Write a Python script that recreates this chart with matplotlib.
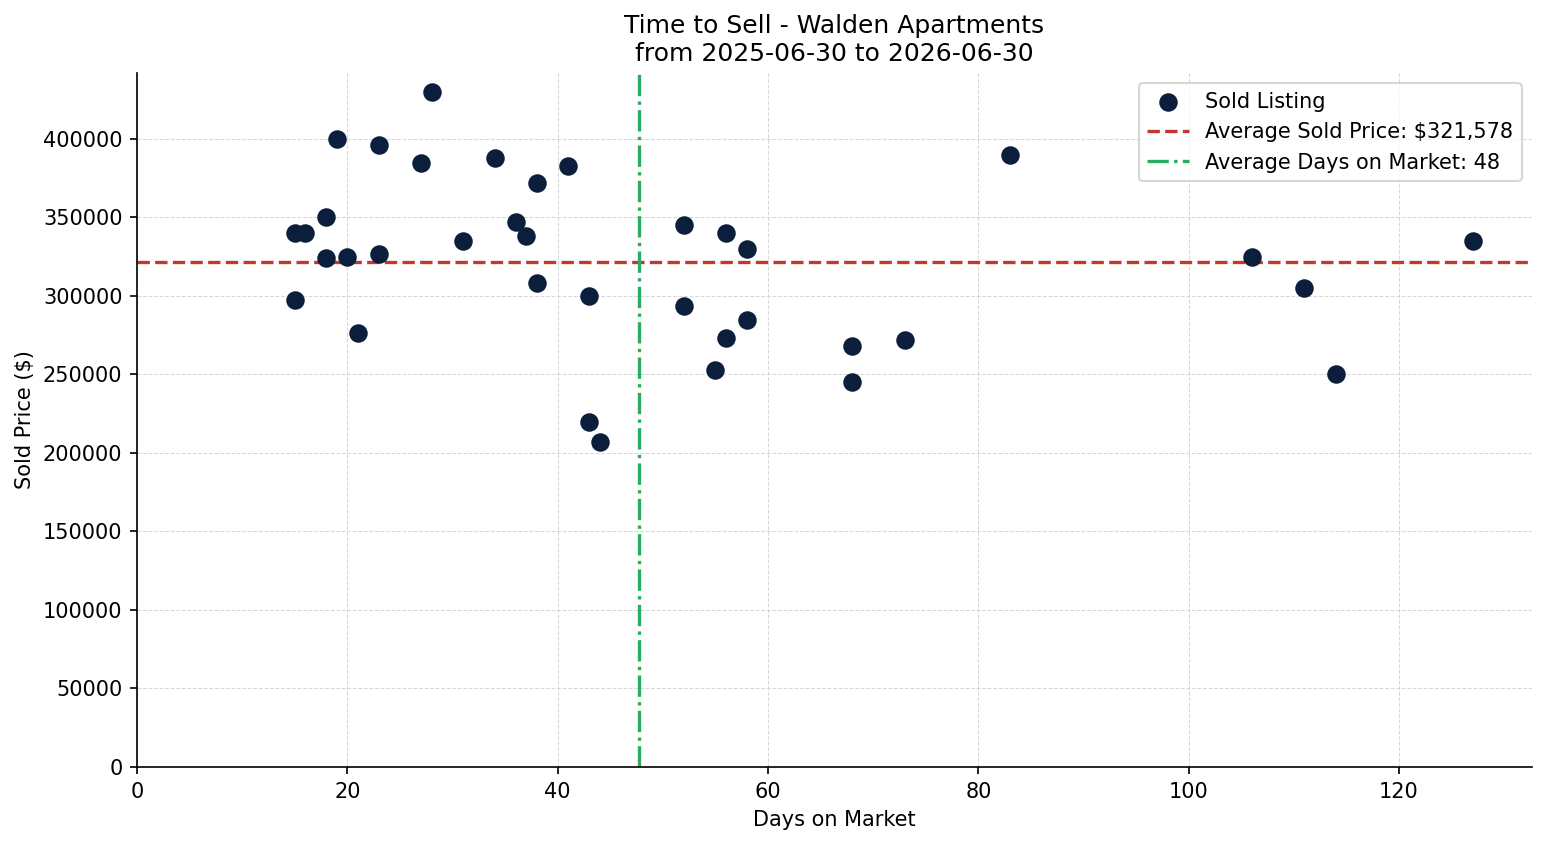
import matplotlib
matplotlib.use("Agg")
import matplotlib.pyplot as plt
import numpy as np

# Sold listings
days_on_market = [15, 16, 15, 18, 18, 19, 20, 21, 23, 23, 27, 28, 31, 34, 36, 37, 38, 38, 41,
                  43, 43, 44, 52, 52, 55, 56, 56, 58, 58, 68, 68, 73, 83, 106, 111, 114, 127]
sold_price = [340000, 340000, 297500, 350000, 324000, 400000, 325000, 276500, 396000, 327000,
              385000, 430000, 335000, 388000, 347000, 338000, 372000, 308000, 383000, 300000,
              219900, 207000, 345000, 293474, 253000, 340000, 273000, 330000, 285000, 268000,
              245000, 272000, 390000, 325000, 305000, 250000, 335000]

title = "Time to Sell - Walden Apartments\nfrom 2025-06-30 to 2026-06-30"

days = np.array(days_on_market)
price = np.array(sold_price)
avg_price = price.mean()
avg_days = days.mean()

fig, ax = plt.subplots(figsize=(1547 / 150, 845 / 150), dpi=150)
fig.subplots_adjust(left=0.0886, right=0.9903, top=0.9136, bottom=0.0923)

ax.scatter(days, price, s=62, color='#0b1e3b', label='Sold Listing', zorder=3)
ax.axhline(avg_price, color='#c0392b', linestyle='--', linewidth=1.6,
           label=f'Average Sold Price: ${avg_price:,.0f}', zorder=2)
ax.axvline(avg_days, color='#27ae60', linestyle='-.', linewidth=1.6,
           label=f'Average Days on Market: {avg_days:.0f}', zorder=2)

ax.set_xlim(0, 132.65)
ax.set_ylim(0, 442000)
ax.set_xlabel('Days on Market')
ax.set_ylabel('Sold Price ($)')
ax.set_title(title, fontsize=12)
ax.grid(True, linestyle='--', linewidth=0.5, color='lightgrey', alpha=0.9)
ax.set_axisbelow(True)
ax.spines['top'].set_visible(False)
ax.spines['right'].set_visible(False)
ax.legend(loc='upper right')

fig.savefig('out.png', dpi=150)
